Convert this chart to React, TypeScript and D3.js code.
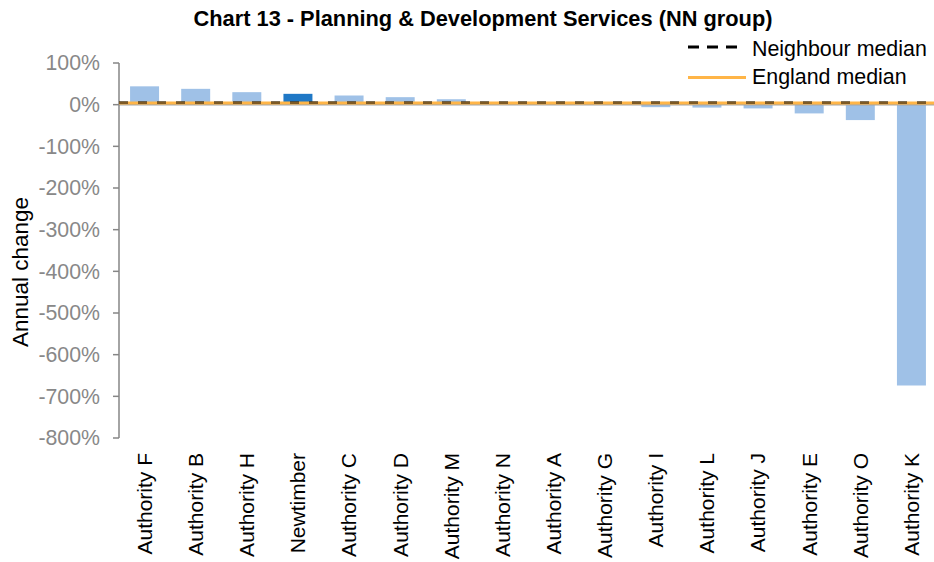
import React from "react";
import * as d3 from "d3";

const categories = [
  "Authority F", "Authority B", "Authority H", "Newtimber", "Authority C", "Authority D",
  "Authority M", "Authority N", "Authority A", "Authority G", "Authority I", "Authority L",
  "Authority J", "Authority E", "Authority O", "Authority K",
];
const values = [44, 38, 30, 26, 22, 18, 13, 6, 4, 2, -6, -7, -9, -21, -37, -674];
const highlight = "Newtimber";
const neighbourMedian = 5.5;
const englandMedian = 4;
const yTicks = [100, 0, -100, -200, -300, -400, -500, -600, -700, -800];

const W = 934;
const H = 562;
const FONT = "'Liberation Sans', Arial, sans-serif";

export default function App() {
  const x = d3.scaleBand<string>().domain(categories).range([119, 937]).paddingInner(0.433).paddingOuter(0.2165);
  const y = d3.scaleLinear().domain([-800, 100]).range([438, 63]);
  const fmt = (v: number) => `${v}%`;
  const x0 = 119;
  const x1 = W;

  return (
    <svg width={W} height={H} style={{ position: "absolute", left: 0, top: 0, background: "#fff" }} fontFamily={FONT}>
      <text x={483} y={26} textAnchor="middle" fontWeight="bold" fontSize={21.8} fill="#000">
        Chart 13 - Planning &amp; Development Services (NN group)
      </text>

      {/* bars */}
      {categories.map((c, i) => {
        const v = values[i];
        const top = y(Math.max(0, v));
        const bot = y(Math.min(0, v));
        return (
          <rect key={c} x={x(c)} y={top} width={x.bandwidth()} height={bot - top}
            fill={c === highlight ? "#1f78c6" : "#9fc1e7"} />
        );
      })}

      {/* zero line */}
      <line x1={x0} x2={x1} y1={y(0)} y2={y(0)} stroke="#a6a6a6" strokeWidth={1.5} />

      {/* y axis */}
      <line x1={x0} x2={x0} y1={y(100)} y2={y(-800)} stroke="#868686" strokeWidth={1.5} />
      {yTicks.map((t) => (
        <g key={t}>
          <line x1={x0 - 6} x2={x0} y1={y(t)} y2={y(t)} stroke="#868686" strokeWidth={1.5} />
          <text x={100} y={y(t)} dy="0.35em" textAnchor="end" fontSize={21.3} fill="#888888">
            {fmt(t)}
          </text>
        </g>
      ))}

      {/* medians */}
      <line x1={x0} x2={x1} y1={y(englandMedian)} y2={y(englandMedian)} stroke="#ffb547" strokeWidth={3} />
      <line x1={x0} x2={x1} y1={y(neighbourMedian)} y2={y(neighbourMedian)} stroke="#000" strokeOpacity={0.5}
        strokeWidth={3} strokeDasharray="9 10" />

      {/* category labels */}
      {categories.map((c) => (
        <text key={c} transform={`translate(${(x(c) ?? 0) + x.bandwidth() / 2},453) rotate(-90)`}
          dy="0.35em" textAnchor="end" fontSize={21} fill="#000">
          {c}
        </text>
      ))}

      {/* y axis title */}
      <text transform="translate(28,272) rotate(-90)" textAnchor="middle" fontSize={22.5} fill="#000">
        Annual change
      </text>

      {/* legend */}
      <line x1={688} x2={737} y1={47} y2={47} stroke="#000" strokeWidth={3} strokeDasharray="11 8" />
      <text x={752} y={56} fontSize={21.4} fill="#000">Neighbour median</text>
      <line x1={688} x2={746} y1={77.5} y2={77.5} stroke="#ffb547" strokeWidth={3} />
      <text x={752} y={83.5} fontSize={21.4} fill="#000">England median</text>
    </svg>
  );
}
